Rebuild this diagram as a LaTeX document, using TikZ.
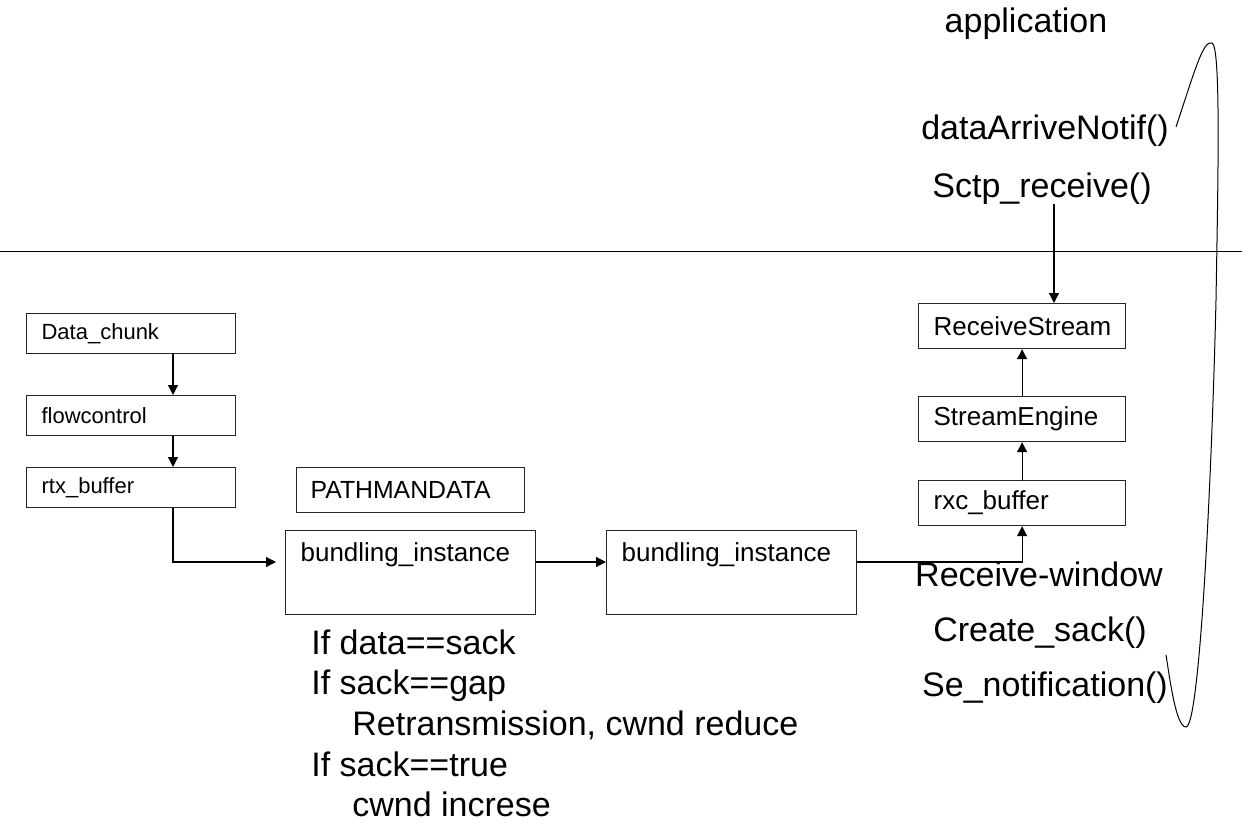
\documentclass[tikz,border=0pt]{standalone}
\usepackage{fontspec}
\setmainfont{Liberation Sans}
\usetikzlibrary{arrows.meta}
\tikzset{
  >={Triangle[length=5pt,width=5pt]},
  sline/.style={black, line width=0.5pt},
  sflow/.style={->, black, line width=0.6pt},
  sbox/.style={draw=black!85, line width=0.6pt, anchor=north west, align=left,
               inner xsep=7.5pt, inner ysep=0pt},
  sleft/.style={sbox, text width=89.5pt, minimum height=20pt,
                font=\fontsize{11}{13}\selectfont},
  sright/.style={sbox, text width=88.5pt, minimum height=22.5pt,
                 font=\fontsize{13}{15}\selectfont},
  sbund/.style={sbox, text width=110pt, text height=15.5pt, text depth=26.5pt,
                font=\fontsize{13}{15}\selectfont},
  sbig/.style={font=\fontsize{17}{20}\selectfont, inner sep=0pt},
  scode/.style={sbig, anchor=base west},
}

\begin{document}
\begin{tikzpicture}[x=0.5pt,y=-0.5pt]
  \useasboundingbox (0,0) rectangle (1242,824);

  \draw[sline] (0,251) -- (1242,251);

  \node[sleft] (a) at (26,313) {Data\_chunk};
  \node[sleft] (b) at (26,395) {flowcontrol};
  \node[sleft] (c) at (26,467) {rtx\_buffer};
  \node[sbox, inner xsep=7pt, text width=100pt, minimum height=22.5pt,
        font=\fontsize{12.4}{14}\selectfont] (d) at (296,467) {PATHMANDATA};
  \node[sbund] (e) at (285,530) {bundling\_instance};
  \node[sbund] (f) at (606,530) {bundling\_instance};
  \node[sright] (g) at (918,480) {rxc\_buffer};
  \node[sright] (h) at (918,396) {StreamEngine};
  \node[sright] (i) at (918,303) {ReceiveStream};

  \coordinate (lx) at (173,0);
  \coordinate (ly) at (0,562);
  \coordinate (rx) at (1054,204);

  \draw[sflow] (a.south -| lx) -- (b.north -| lx);
  \draw[sflow] (b.south -| lx) -- (c.north -| lx);
  \draw[sflow, shorten >=4.5pt] (c.south -| lx) |- (e.west |- ly);
  \draw[sflow] (e.east |- ly) -- (f.west |- ly);
  \draw[sflow] (f.east |- ly) -| (g.south);
  \draw[sflow] (g.north) -- (h.south);
  \draw[sflow] (h.north) -- (i.south);
  \draw[sflow] (rx) -- (i.north -| rx);

  % camada de aplicacao
  \node[sbig] (app) at (1026,24) {application};
  \node[sbig] (notif) at (1045,131) {dataArriveNotif()};
  \node[sbig] (recv) at (1042,189) {Sctp\_receive()};

  \node[sbig] (rwin) at (1039,574) {Receive-window};
  \node[sbig] (csack) at (1040,633) {Create\_sack()};
  \node[sbig] (senot) at (1045,688) {Se\_notification()};

  \draw[sline] (1176,127) .. controls (1195,70) and (1203,40) .. (1212,43)
    .. controls (1221,46) and (1218,180) .. (1216,300)
    .. controls (1212,470) and (1200,727) .. (1186,727)
    .. controls (1176,727) and (1170,680) .. (1166,655);

  \node[scode] (l1) at (311,654) {If data==sack};
  \node[scode] (l2) at (311,694) {If sack==gap};
  \node[scode] (l3) at (352,735) {Retransmission, cwnd reduce};
  \node[scode] (l4) at (311,776) {If sack==true};
  \node[scode] (l5) at (352,816) {cwnd increse};

\end{tikzpicture}
\end{document}
